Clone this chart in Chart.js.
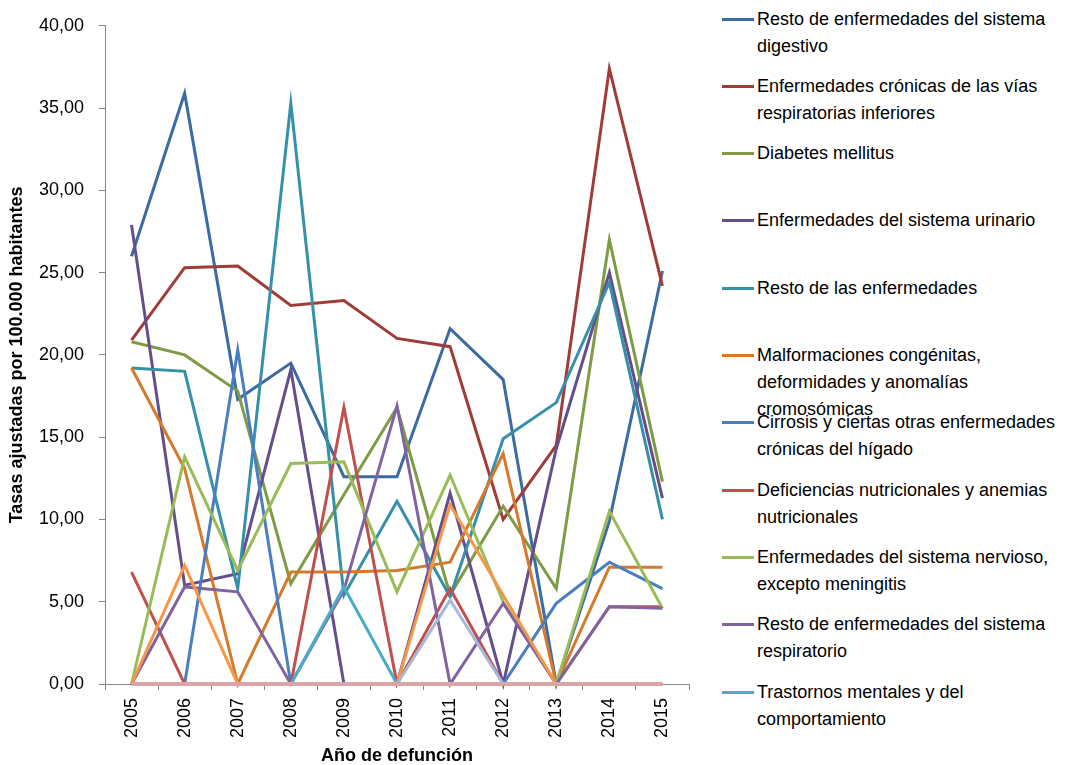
<!DOCTYPE html>
<html lang="es">
<head>
<meta charset="utf-8">
<title>Tasas ajustadas por 100.000 habitantes</title>
<script src="https://cdn.jsdelivr.net/npm/chart.js@4.4.1/dist/chart.umd.min.js"></script>
<style>
  html, body { margin: 0; padding: 0; background: #fff; }
  #wrap { position: relative; width: 1065px; height: 765px; font-family: "Liberation Sans", Arial, sans-serif; }
  #chartBox { position: absolute; left: 0; top: 0; width: 710px; height: 765px; }
  #legend { position: absolute; left: 0; top: 0; }
  .item { position: absolute; left: 722px; width: 343px; }
  .swatch { position: absolute; left: 0; top: 12px; width: 32px; height: 3px; }
  .text { position: absolute; left: 35px; top: 0; width: 308px; font-size: 18px; line-height: 27px; color: #000; }
</style>
</head>
<body>
<div id="wrap">
  <div id="chartBox"><canvas id="myChart"></canvas></div>
  <div id="legend"></div>
</div>
<script>
const years = ['2005', '2006', '2007', '2008', '2009', '2010', '2011', '2012', '2013', '2014', '2015'];
const yTicks = [0, 5, 10, 15, 20, 25, 30, 35, 40];

const restoDigestivo = [26.0, 35.9, 17.3, 19.5, 12.6, 12.6, 21.6, 18.5, 0, 9.9, 25.1];
const viasRespiratorias = [20.9, 25.3, 25.4, 23.0, 23.3, 21.0, 20.5, 10.0, 14.5, 37.4, 24.2];
const diabetes = [20.8, 20.0, 17.8, 6.1, 11.5, 16.8, 5.4, 10.8, 5.8, 27.0, 12.3];
const urinario = [27.9, 6.0, 6.7, 19.1, 0, 0, 11.6, 0, 14.3, 25.0, 11.3];
const restoEnfermedades = [19.2, 19.0, 5.8, 35.3, 5.4, 11.1, 5.3, 14.9, 17.1, 24.4, 10.0];
const malformaciones = [19.2, 13.1, 0, 6.8, 6.8, 6.9, 7.4, 14.0, 0, 7.1, 7.1];
const cirrosis = [0, 0, 20.3, 0, 0, 0, 0, 0, 4.9, 7.4, 5.8];
const deficiencias = [6.8, 0, 0, 0, 16.8, 0, 5.8, 0, 0, 4.7, 4.7];
const nervioso = [0, 13.8, 6.9, 13.4, 13.5, 5.6, 12.7, 5.0, 0, 10.5, 4.6];
const restoRespiratorio = [0, 5.9, 5.6, 0, 5.7, 16.9, 0, 4.9, 0, 4.7, 4.6];
const trastornosMentales = [0, 0, 0, 0, 5.9, 0, 0, 0, 0, 0, 0];
const serie12 = [0, 7.2, 0, 0, 0, 0, 10.9, 5.4, 0, 0, 0];
const serie13 = [0, 0, 0, 0, 0, 0, 5.1, 0, 0, 0, 0];
const serie14 = [0, 0, 0, 0, 0, 0, 0, 0, 0, 0, 0];

const seriesNames = [
    'Resto de enfermedades del sistema digestivo',
    'Enfermedades crónicas de las vías respiratorias inferiores',
    'Diabetes mellitus',
    'Enfermedades del sistema urinario',
    'Resto de las enfermedades',
    'Malformaciones congénitas, deformidades y anomalías cromosómicas',
    'Cirrosis y ciertas otras enfermedades crónicas del hígado',
    'Deficiencias nutricionales y anemias nutricionales',
    'Enfermedades del sistema nervioso, excepto meningitis',
    'Resto de enfermedades del sistema respiratorio',
    'Trastornos mentales y del comportamiento',
    'Serie 12',
    'Serie 13',
    'Serie 14'
];
const seriesValues = [restoDigestivo, viasRespiratorias, diabetes, urinario, restoEnfermedades,
    malformaciones, cirrosis, deficiencias, nervioso, restoRespiratorio, trastornosMentales,
    serie12, serie13, serie14];
const colors = ['#3C6AA3', '#A03C38', '#7F9C45', '#654F8A', '#3590A8', '#D57A2C', '#4A7EBF',
    '#C0504D', '#9BBB59', '#8064A2', '#4BACC6', '#F79646', '#A7B9D8', '#D9A6A5'];
const legendCount = 11; // the legend box only shows the first eleven series

Chart.defaults.font.family = '"Liberation Sans", Arial, sans-serif';
Chart.defaults.color = '#000';

const datasets = seriesValues.map((values, i) => ({
    label: seriesNames[i],
    data: values,
    borderColor: colors[i],
    backgroundColor: colors[i],
    borderWidth: i === seriesValues.length - 1 ? 4 : 3,
    pointRadius: 0,
    tension: 0,
    fill: false,
    clip: false,
    order: seriesValues.length - i
}));

const ctx = document.getElementById('myChart').getContext('2d');
const myChart = new Chart(ctx, {
    type: 'line',
    data: { labels: years, datasets: datasets },
    options: {
        responsive: true,
        maintainAspectRatio: false,
        animation: false,
        layout: { padding: { left: 0, top: 23, right: 21, bottom: 0 } },
        plugins: { legend: { display: false }, tooltip: { enabled: false } },
        scales: {
            x: {
                offset: true,
                grid: { display: true, offset: true, drawOnChartArea: false, drawTicks: true, tickLength: 6, color: '#868686' },
                border: { display: true, color: '#868686', width: 1 },
                ticks: { autoSkip: false, minRotation: 90, maxRotation: 90, padding: 8, font: { size: 18 } },
                title: { display: true, text: 'Año de defunción', font: { size: 18, weight: 'bold', lineHeight: 1 }, padding: 0 },
                afterFit: scale => { scale.height = 81; }
            },
            y: {
                min: 0,
                max: 40,
                afterBuildTicks: scale => { scale.ticks = yTicks.map(v => ({ value: v })); },
                grid: { display: true, drawOnChartArea: false, drawTicks: true, tickLength: 6, color: '#868686' },
                border: { display: true, color: '#868686', width: 1 },
                ticks: {
                    padding: 15,
                    font: { size: 18 },
                    callback: v => v.toFixed(2).replace('.', ',')
                },
                title: { display: true, text: 'Tasas ajustadas por 100.000 habitantes', font: { size: 18, weight: 'bold', lineHeight: 1 }, padding: { top: 8, bottom: 0 } },
                afterFit: scale => { scale.width = 105; }
            }
        }
    }
});

// legend on the right, built from the chart's own datasets
const legend = document.getElementById('legend');
myChart.data.datasets.slice(0, legendCount).forEach((ds, i) => {
    const item = document.createElement('div');
    item.className = 'item';
    item.style.top = (19 + i * 67.3 - 13.5) + 'px';
    const swatch = document.createElement('div');
    swatch.className = 'swatch';
    swatch.style.background = ds.borderColor;
    const text = document.createElement('div');
    text.className = 'text';
    text.textContent = ds.label;
    item.appendChild(swatch);
    item.appendChild(text);
    legend.appendChild(item);
});
</script>
</body>
</html>
